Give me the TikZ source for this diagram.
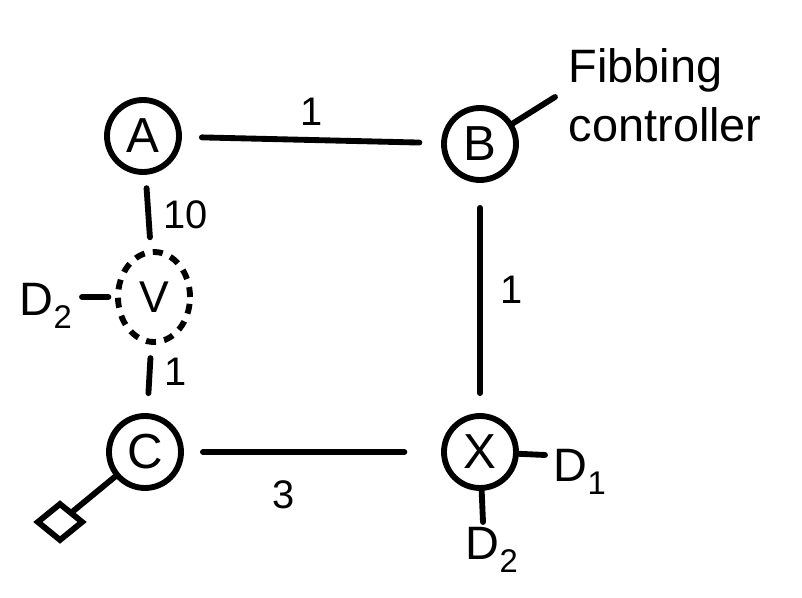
\documentclass[tikz,border=0pt]{standalone}
\usepackage{fontspec}
\setmainfont{Liberation Sans}
\usetikzlibrary{shapes.geometric}

\begin{document}
\begin{tikzpicture}[x=0.03cm,y=-0.03cm,line width=5pt,
  router/.style={draw,circle,line width=5pt,minimum size=2.16cm,inner sep=0pt,
    font=\fontsize{42}{46}\selectfont},
  fake/.style={draw,ellipse,line width=5pt,dash pattern=on .3cm off .25cm,
    minimum width=2.16cm,minimum height=2.7cm,inner sep=0pt,
    font=\fontsize{38}{42}\selectfont},
  link/.style={line width=5pt,line cap=round},
  wt/.style={font=\fontsize{34}{38}\selectfont},
  dest/.style={font=\fontsize{40}{44}\selectfont}]
\useasboundingbox (0,0) rectangle (802,598);

% routers of the square
\node[router] (a) at (143,136) {A};
\node[router] (b) at (480,144) {B};
\node[router] (c) at (145,452) {C};
\node[router] (x) at (480,452) {X};
\node[fake] (v) at (154,297) {V};

% links with their weights
\draw[link,shorten <=.6cm,shorten >=.65cm] (a) -- (b);
\node[wt] (wab) at (312,112) {1};
\draw[link,shorten <=.4cm,shorten >=.36cm] (a) -- (v);
\node[wt] (wav) at (186,215) {10};
\draw[link,shorten <=.4cm,shorten >=.6cm] (v) -- (c);
\node[wt] (wvc) at (176,372) {1};
\draw[link,shorten <=.75cm,shorten >=.6cm] (b) -- (x);
\node[wt] (wbx) at (512,290) {1};
\draw[link,shorten <=.57cm,shorten >=1.1cm] (c) -- (x);
\node[wt] (wcx) at (284,495) {3};

% controller attached to B
\coordinate (ctl) at (555,97);
\draw[link] (b) -- (ctl);
\node[font=\fontsize{40}{50}\selectfont,align=left,anchor=west] (fib) at (562,95)
  {Fibbing\\controller};

% destinations
\coordinate (xd1) at (545,455);
\draw[link] (x) -- (xd1);
\node[dest] (d1) at (580,472) {D\textsubscript{1}};
\coordinate (xd2) at (483,522);
\draw[link] (x) -- (xd2);
\node[dest] (d2) at (492,550) {D\textsubscript{2}};
\coordinate (vd2) at (82,297);
\draw[link,shorten <=.2cm] (v) -- (vd2);
\node[dest] (d2v) at (46,306) {D\textsubscript{2}};

% prefix source below C
\node[draw,diamond,line width=5pt,minimum width=1.4cm,minimum height=1.15cm,
  inner sep=0pt] (src) at (60,522) {};
\draw[link] (c) -- (src);
\end{tikzpicture}
\end{document}
